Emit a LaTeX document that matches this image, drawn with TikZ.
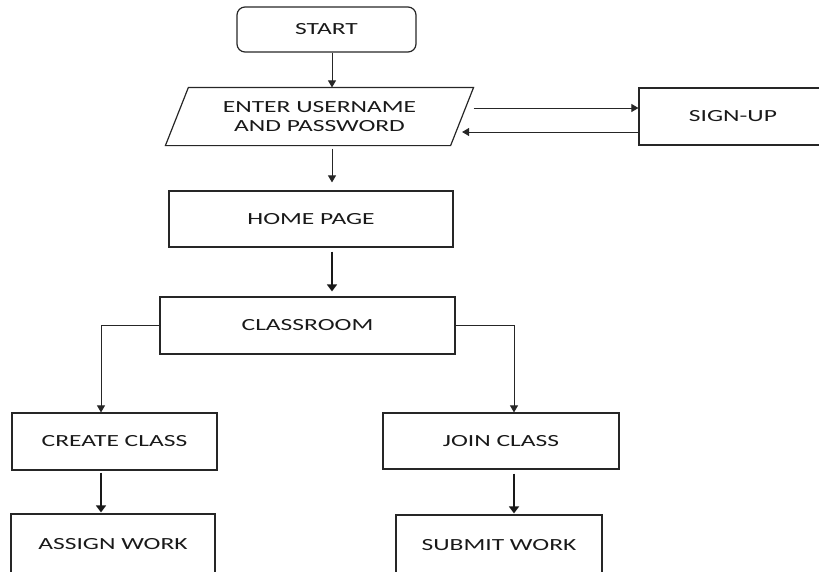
\documentclass[tikz,border=0pt]{standalone}
\usepackage{fontspec}
\setmainfont{Carlito}[FakeStretch=1.5]
\usetikzlibrary{arrows.meta}

\begin{document}
\begin{tikzpicture}[x=1pt, y=-1pt,
    block/.style={draw=black!85, line width=1.2pt, minimum width=#1pt, inner sep=0pt,
        font=\fontsize{17}{19}\selectfont, text=black!90, align=center},
    link/.style={draw=black!85, line width=0.9pt, -{Triangle[length=7pt,width=8pt]}},
    boldlink/.style={draw=black!90, line width=1.8pt, -{Triangle[length=7pt,width=10pt]}}]
\useasboundingbox (0,0) rectangle (819,571);
\begin{scope}
    \node[block=179, minimum height=45pt, rounded corners=8pt] (S) at (326.5,29.5) {START};
    \node[block=284, minimum height=57pt, draw=none] (E) at (319.5,116.5) {ENTER USERNAME\\AND PASSWORD};
    \node[block=188, minimum height=57pt] (U) at (733,116.5) {SIGN-UP};
    \node[block=284, minimum height=56pt] (H) at (311,219) {HOME PAGE};
    \node[block=295, minimum height=57pt] (C) at (307.5,325.5) {CLASSROOM};
    \node[block=205, minimum height=57pt] (K) at (114.5,441.5) {CREATE CLASS};
    \node[block=236, minimum height=56pt] (J) at (501,441) {JOIN CLASS};
    \node[block=204, minimum height=60pt] (A) at (113,544) {ASSIGN WORK};
    \node[block=206, minimum height=60pt] (W) at (499,545) {SUBMIT WORK};

    % slanted input box
    \draw [draw=black!85, line width=1.2pt] ([xshift=11.5pt]E.north west) -- ([xshift=11.5pt]E.north east)
        -- ([xshift=-11.5pt]E.south east) -- ([xshift=-11.5pt]E.south west) -- cycle;

    \coordinate (m) at (332,0);
    \coordinate (l) at (101,0);
    \coordinate (r) at (514,0);
    \coordinate (up) at (0,108);
    \coordinate (dn) at (0,132);

    \draw [link] (S.south -| m) -- (E.north -| m);
    \draw [link, shorten <=3pt, shorten >=8pt] (E.south -| m) -- (H.north -| m);
    \draw [boldlink, shorten <=4pt, shorten >=5pt] (H.south -| m) -- (C.north -| m);
    \draw [link, shorten <=11.5pt] (E.east |- up) -- (U.west |- up);
    \draw [link] (U.west |- dn) -- (E.east |- dn);
    \draw [link] (C.west) -| (K.north -| l);
    \draw [link] (C.east) -| (J.north -| r);
    \draw [boldlink, shorten <=2pt, shorten >=1pt] (K.south -| l) -- (A.north -| l);
    \draw [boldlink, shorten <=4pt, shorten >=1pt] (J.south -| r) -- (W.north -| r);
\end{scope}
\end{tikzpicture}
\end{document}
